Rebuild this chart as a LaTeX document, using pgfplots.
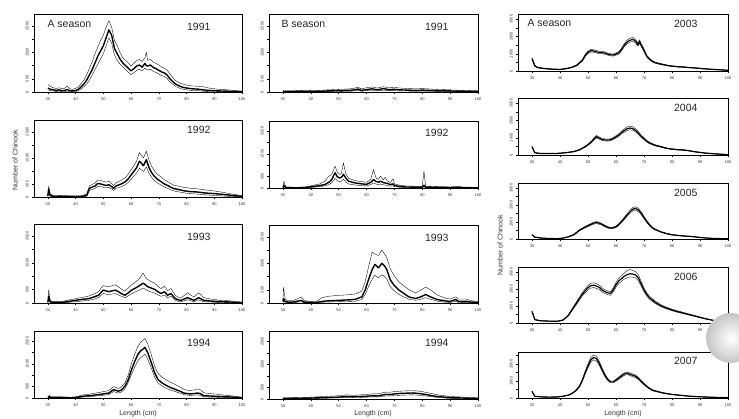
\documentclass[border=0pt]{standalone}
\usepackage{fontspec}
\setmainfont{Liberation Sans}
\usepackage{pgfplots}
\pgfplotsset{compat=1.18}
\usepackage{pgfplotstable}

% columns: length, mean, lower bound, upper bound
\pgfplotstableread{
x m lo hi
30 150 80 280
31 100 50 200
32 80 40 160
33 60 20 130
34 80 30 160
35 50 20 120
36 60 20 140
37 90 30 220
38 50 20 120
39 40 10 100
40 60 20 140
41 100 40 190
42 200 120 320
43 300 200 450
44 450 300 650
45 650 450 900
46 850 650 1150
47 1100 850 1450
48 1350 1050 1700
49 1550 1250 1950
50 1750 1450 2150
51 2050 1750 2450
52 2350 2050 2700
53 2150 1850 2450
54 1650 1400 1950
55 1450 1200 1750
56 1250 1050 1500
57 1100 950 1300
58 1000 850 1200
59 900 750 1100
60 800 660 980
61 880 730 1080
62 980 820 1180
63 1020 860 1230
64 940 790 1150
65 1080 900 1300
65.5 1000 850 1500
66 980 830 1200
67 1020 860 1230
68 930 780 1130
69 880 740 1080
70 820 680 1020
71 760 620 950
72 720 590 900
73 640 510 830
74 500 380 680
75 400 300 560
76 300 210 430
77 250 170 380
78 200 120 320
79 170 100 290
80 150 80 260
82 120 60 230
84 110 50 220
86 80 30 200
88 60 20 150
90 50 20 120
92 40 10 100
95 30 10 80
98 20 5 50
100 10 0 30
}\tAi
\pgfplotstableread{
x m lo hi
30 40 20 80
30.3 300 200 420
30.8 60 30 110
32 30 10 60
35 25 10 50
38 20 5 45
40 15 5 40
42 20 5 50
44 60 30 110
45 330 250 430
46 380 290 480
47 420 330 540
48 520 410 650
49 500 400 640
50 470 370 600
51 440 350 570
52 470 370 600
53 400 310 520
53.7 330 250 440
54.5 420 330 540
55.5 460 360 590
56.5 500 400 640
58 590 470 750
59 700 560 880
60 840 680 1040
61 980 800 1200
62 1120 920 1380
63 1370 1100 1700
64 1260 1020 1550
64.5 1200 980 1500
65.5 1430 1150 1760
66.5 1120 900 1400
67.5 920 740 1150
68.5 780 620 990
69.5 680 540 870
70.8 590 460 770
72 500 380 660
73 450 340 600
74.4 370 270 510
75.5 320 230 450
77 290 200 420
79 240 160 370
81 210 130 340
84 190 110 310
87 150 80 270
90 130 60 230
93 100 40 180
96 65 20 120
100 25 5 50
}\tAii
\pgfplotstableread{
x m lo hi
30 30 10 60
30.3 250 120 480
30.8 60 20 120
31.5 20 5 50
33 30 10 70
35 20 5 50
37 50 20 100
40 100 50 160
42 130 70 200
44.8 165 100 260
46.5 220 140 330
48.3 290 200 420
49.2 400 290 560
50 480 360 650
51 450 330 620
52 420 300 600
53 450 330 640
54.3 480 350 680
55.5 420 300 600
56.5 350 250 520
57.8 290 200 440
59 380 270 560
60.2 480 350 680
61.3 540 400 760
62.5 610 460 860
63.5 680 510 980
64.3 740 560 1120
65.2 680 510 960
66 610 460 880
67.2 560 410 800
68.5 510 370 740
69.7 420 300 620
70.8 355 250 540
72 420 300 620
73.2 290 200 460
74.4 355 250 540
75.2 250 170 400
76 165 100 280
77 120 60 220
78 100 50 200
79.2 150 80 280
80.3 200 120 380
81.5 150 80 300
82.7 100 50 220
83.5 150 80 300
84.4 200 120 380
85.3 150 80 300
86.2 100 50 200
88 80 40 160
89.8 65 30 130
92 50 20 100
95.7 38 10 80
100 10 0 30
}\tAiii
\pgfplotstableread{
x m lo hi
30 20 5 50
30.5 60 20 110
31 20 5 50
35 20 5 50
38 10 0 30
40 20 5 50
42.5 75 40 130
45 100 60 170
48.3 150 100 240
50 180 120 280
52 220 150 330
53.7 370 280 500
55.4 300 220 420
56.5 350 260 480
57.8 520 410 680
59 820 680 1020
60.2 1260 1060 1540
61.4 1630 1380 1950
62.5 1930 1650 2280
63.5 2080 1780 2450
64.3 2150 1850 2540
65 2230 1930 2620
66 2000 1720 2380
67.3 1560 1320 1900
68.5 1110 920 1400
69.7 820 670 1080
70.8 700 560 950
72 600 470 850
73.2 520 400 760
74.4 450 340 680
75.5 400 300 620
76.7 340 250 540
78 280 200 460
79 220 150 380
80 200 130 350
81.4 180 110 330
83 200 130 360
84 220 140 400
85 190 120 360
86.2 100 50 230
88 90 40 200
90.9 75 30 170
93 60 20 130
95.7 45 10 100
98 30 5 70
100 10 0 30
}\tAiv
\pgfplotstableread{
x m lo hi
30 20 5 50
33 15 5 40
36 25 10 60
40 30 10 70
43 25 10 60
46 40 15 80
50 50 20 100
53 60 30 110
55 70 35 130
57 110 60 180
58 60 30 120
60 90 50 160
62 120 60 190
64 80 40 150
66 130 70 200
68 90 50 160
70 100 50 170
72 80 40 150
75 70 35 130
78 60 30 120
80 70 35 130
85 50 25 100
90 40 15 80
95 30 10 60
100 20 5 40
}\tBi
\pgfplotstableread{
x m lo hi
30 20 5 40
30.4 120 50 300
31 20 5 40
35 10 0 30
38 20 5 45
41.4 75 40 130
43 100 60 170
45 150 90 300
46.5 250 150 520
47.5 370 230 600
48.7 670 420 960
49.5 500 320 700
50.3 440 280 600
51 470 300 650
51.7 600 380 1110
52.5 450 280 650
53.5 300 180 430
55 250 150 360
56 220 130 320
58.3 180 100 280
60 160 90 250
61.5 250 150 380
62.5 370 220 810
63.5 280 170 420
64.3 260 150 390
65 300 180 520
66 240 140 360
66.7 220 130 470
67.5 200 110 310
68.5 150 80 240
69.5 180 100 410
70 110 60 180
71.6 75 40 130
74 45 20 90
77 40 15 80
80 40 15 80
80.6 120 60 740
81.2 40 15 80
85 30 10 60
90 20 5 45
93 30 10 60
95 15 5 35
100 10 0 25
}\tBii
\pgfplotstableread{
x m lo hi
30 60 20 150
30.2 170 80 590
30.8 60 20 150
32 30 10 80
34 40 15 100
36.6 100 50 230
37.5 40 15 100
40 20 5 50
42 20 5 60
44 60 30 200
46 80 40 250
48 90 45 270
50 100 50 290
52 110 55 300
54 120 60 320
56 140 70 340
58.3 230 130 450
59.5 490 320 800
60.7 880 620 1350
62 1260 900 1930
63 1460 1050 1850
64.3 1330 950 1800
65.5 1500 1070 2000
66.5 1400 1000 1850
67.3 1260 900 1700
68.5 880 620 1300
69.8 680 470 1050
71.6 490 330 800
73.4 360 230 650
75.2 230 140 500
77.6 170 100 380
79.4 230 140 480
81.2 320 200 600
83 230 140 500
85.4 130 70 300
88.4 77 30 180
90 60 20 150
92 130 60 230
93 60 20 150
95.7 65 25 150
97 40 10 100
100 20 5 50
}\tBiii
\pgfplotstableread{
x m lo hi
30 20 10 50
35 30 15 60
40 40 20 80
45 60 35 110
50 80 50 140
53 110 70 180
55 100 60 160
58 110 70 180
60 120 80 200
62 140 90 220
64 130 90 220
66 180 120 280
67 200 130 300
68 190 130 290
70 220 150 320
72 240 160 340
74 250 170 350
76 260 180 360
78 250 170 350
80 220 150 320
82 180 120 270
84 130 90 220
86 100 60 170
90 60 30 110
95 40 20 80
100 20 5 50
}\tBiv
\pgfplotstableread{
x m lo hi
30 720 680 770
31 300 270 330
32 200 180 220
34 150 135 165
36 120 105 135
38 100 90 110
40 90 80 100
42 130 115 145
44 200 180 220
46 330 300 360
48 620 570 670
49 900 840 960
50 1080 1010 1150
51 1180 1100 1260
52 1160 1080 1240
53 1110 1040 1180
54 1080 1010 1150
55 1060 990 1130
56 1040 970 1110
57 980 920 1040
58 940 880 1000
59 920 860 980
60 980 920 1050
61 1050 980 1120
62 1250 1170 1330
63 1500 1410 1600
64 1680 1580 1790
65 1780 1670 1900
66 1830 1720 1950
67 1720 1620 1830
67.8 1520 1430 1620
68.4 1700 1600 1810
69 1500 1410 1600
70 1200 1130 1280
71 850 800 910
72 680 640 730
73 560 520 600
74 480 450 510
76 400 370 430
78 330 310 350
80 280 260 300
82 250 230 270
84 230 210 250
86 200 185 215
88 180 165 195
90 150 140 160
92 120 110 130
94 100 90 110
96 80 70 90
98 60 50 70
100 40 30 50
}\tCi
\pgfplotstableread{
x m lo hi
30 480 450 510
31 130 120 140
33 90 80 100
36 80 70 90
39 90 80 100
42 130 120 140
45 200 185 215
47 300 280 320
49 480 450 510
51 720 670 770
52 900 840 960
53 1060 990 1130
54 980 920 1050
55 900 840 960
56 870 810 930
57 860 800 920
58 880 820 940
59 950 890 1010
60 1050 980 1120
61 1150 1080 1230
62 1300 1220 1390
63 1420 1330 1520
64 1520 1420 1630
65 1560 1460 1670
66 1530 1430 1640
67 1420 1330 1520
68 1260 1180 1350
69 1080 1010 1150
70 950 890 1010
71 800 750 850
72 690 650 730
74 560 530 590
76 480 450 510
78 390 370 410
80 340 320 360
82 310 290 330
84 290 270 310
86 250 235 265
88 190 180 200
90 150 140 160
92 110 100 120
95 70 60 80
100 20 15 25
}\tCii
\pgfplotstableread{
x m lo hi
30 250 230 270
31 110 100 120
33 60 55 65
36 30 25 35
39 20 15 25
41 50 45 55
43 130 120 140
45 260 240 280
47 520 490 550
49 700 660 740
51 860 810 910
52 930 870 990
53 970 910 1030
54 930 870 990
55 860 810 910
56 770 720 820
57 690 650 730
58 640 600 680
59 660 620 700
60 720 680 760
61 850 800 900
62 1030 970 1090
63 1220 1150 1290
64 1420 1340 1500
65 1600 1510 1690
66 1760 1660 1860
67 1800 1700 1900
68 1700 1600 1800
69 1520 1430 1610
70 1260 1190 1330
71 1030 970 1090
72 820 770 870
73 660 620 700
74 560 530 590
76 420 400 440
78 320 300 340
80 250 235 265
82 210 195 225
84 180 170 190
86 160 150 170
88 130 120 140
90 90 85 95
92 60 55 65
95 30 25 35
100 10 5 15
}\tCiii
\pgfplotstableread{
x m lo hi
30 680 640 720
31 200 185 215
33 130 120 140
36 110 100 120
39 100 90 110
41 170 155 185
42 300 280 320
43 450 420 480
44 700 650 750
45 960 900 1020
46 1200 1120 1280
47 1450 1360 1540
48 1700 1600 1800
49 1900 1780 2020
50 2080 1950 2210
51 2200 2060 2340
52 2230 2090 2370
53 2180 2040 2320
54 2100 1970 2230
55 1950 1830 2070
56 1850 1740 1960
57 1780 1670 1890
58 1740 1630 1850
59 1950 1830 2070
60 2250 2110 2390
61 2480 2330 2640
62 2620 2460 2790
63 2760 2590 2950
64 2850 2670 3100
65 2900 2720 3150
66 2880 2700 3100
67 2830 2650 3020
68 2650 2480 2830
69 2300 2160 2450
70 1950 1830 2070
71 1680 1580 1780
72 1480 1390 1570
73 1350 1270 1430
74 1220 1150 1290
76 1020 960 1080
78 880 830 930
80 770 720 820
82 670 630 710
84 590 550 630
86 500 470 530
88 420 395 445
90 330 310 350
92 250 235 265
94 180 170 190
96 110 100 120
98 60 55 65
100 20 15 25
}\tCiv
\pgfplotstableread{
x m lo hi
30 390 370 410
31 100 90 110
33 70 65 75
36 50 45 55
39 60 55 65
41 100 90 110
43 170 160 180
44 240 225 255
45 350 330 370
46 500 470 530
47 700 660 740
48 1050 990 1110
49 1500 1410 1590
50 1900 1790 2010
51 2250 2120 2400
52 2390 2250 2540
53 2330 2190 2480
54 2050 1930 2170
55 1700 1600 1800
56 1350 1270 1430
57 1100 1040 1160
58 950 900 1000
59 950 900 1000
60 1050 990 1110
61 1180 1110 1250
62 1300 1220 1380
63 1420 1340 1500
64 1460 1380 1540
65 1400 1320 1480
66 1340 1260 1420
67 1280 1200 1360
68 1150 1080 1220
69 980 920 1040
70 820 770 870
71 680 640 720
72 560 530 590
73 460 430 490
75 370 350 390
77 290 275 305
80 210 200 220
83 160 150 170
86 110 105 115
90 70 65 75
95 40 35 45
100 20 15 25
}\tCv

\pgfplotsset{
  panel/.style={scale only axis, anchor=south west,
    xmin=25, xmax=100, ymin=0,
    xtick={30,40,...,100},
    tick pos=left, tick align=outside, major tick length=1.8pt,
    tick style={line width=0.4pt, black},
    axis line style={line width=0.6pt},
    ticklabel style={font=\fontsize{4}{4.5}\selectfont, text=black!80},
    yticklabel style={rotate=90, anchor=south},
    /pgf/number format/1000 sep={},
    /pgf/number format/assume math mode=true},
  panA/.style={panel, width=208pt, ymax=2950,
    ytick={0,500,...,2500}, yticklabels={0,500,,1500,,2500}},
  panC/.style={panel, width=210pt, ymax=3300,
    ytick={0,500,...,3000}, yticklabels={0,,1000,,2000,,3000}},
  mean/.style={black, line width=1.4pt, line join=round},
  bnd/.style={black, line width=0.35pt, line join=round},
}

\newcommand{\bands}[2][1.4pt]{%
  \addplot[bnd] table[x=x,y=lo]{#2};
  \addplot[bnd] table[x=x,y=hi]{#2};
  \addplot[mean, line width=#1] table[x=x,y=m]{#2};}

\begin{document}
\begin{tikzpicture}
\useasboundingbox (0,0) rectangle (739pt,419pt);

% A season 1991-1994
\begin{axis}[panA, at={(34pt,327pt)}, height=78pt] \bands{\tAi} \end{axis}
\begin{axis}[panA, at={(34pt,222pt)}, height=77pt] \bands{\tAii} \end{axis}
\begin{axis}[panA, at={(34pt,116pt)}, height=79pt] \bands{\tAiii} \end{axis}
\begin{axis}[panA, at={(34pt,21pt)}, height=67pt] \bands{\tAiv} \end{axis}

% B season 1991-1994
\begin{axis}[panA, width=209pt, at={(269pt,327pt)}, height=78pt] \bands{\tBi} \end{axis}
\begin{axis}[panA, width=209pt, at={(269pt,231pt)}, height=67pt] \bands{\tBii} \end{axis}
\begin{axis}[panA, width=209pt, at={(269pt,116pt)}, height=78pt] \bands{\tBiii} \end{axis}
\begin{axis}[panA, width=209pt, at={(269pt,20pt)}, height=68pt] \bands{\tBiv} \end{axis}

% A season 2003-2007
\begin{axis}[panC, at={(518pt,348pt)}, height=57pt] \bands[1.2pt]{\tCi} \end{axis}
\begin{axis}[panC, at={(518pt,264pt)}, height=57pt] \bands[1.2pt]{\tCii} \end{axis}
\begin{axis}[panC, at={(518pt,180pt)}, height=56pt] \bands[1.2pt]{\tCiii} \end{axis}
\begin{axis}[panC, at={(518pt,96pt)}, height=56pt] \bands[1.2pt]{\tCiv} \end{axis}
\begin{axis}[panC, at={(518pt,21pt)}, height=46pt, ymax=2715,
  ytick={0,500,...,2500}, yticklabels={0,,1000,,2000,}] \bands[1.2pt]{\tCv} \end{axis}

\begin{scope}[font=\fontsize{10.5}{12}\selectfont, text=black!85]
\node[anchor=west] at (44pt,395pt) {A season};
\node[anchor=west] at (278pt,395pt) {B season};
\node[anchor=west] at (524pt,396pt) {A season};
\node[anchor=east] at (214pt,392pt) {1991};
\node[anchor=east] at (214pt,289pt) {1992};
\node[anchor=east] at (214pt,182pt) {1993};
\node[anchor=east] at (214pt,76pt) {1994};
\node[anchor=east] at (452pt,392pt) {1991};
\node[anchor=east] at (452pt,286pt) {1992};
\node[anchor=east] at (452pt,181pt) {1993};
\node[anchor=east] at (452pt,76pt) {1994};
\node[anchor=east] at (701pt,395pt) {2003};
\node[anchor=east] at (701pt,311pt) {2004};
\node[anchor=east] at (701pt,226pt) {2005};
\node[anchor=east] at (701pt,142pt) {2006};
\node[anchor=east] at (701pt,58pt) {2007};
\end{scope}

\begin{scope}[font=\fontsize{7}{8}\selectfont, text=black!80]
\node[rotate=90] at (15pt,259pt) {Number of Chinook};
\node[rotate=90] at (500pt,174pt) {Number of Chinook};
\node at (138pt,5pt) {Length (cm)};
\node at (373pt,5pt) {Length (cm)};
\node at (623pt,5pt) {Length (cm)};
\end{scope}

\begin{scope}
\clip (0,0) rectangle (739pt,419pt);
\shade[inner color=white, outer color=gray!45] (731pt,81pt) circle (25pt);
\end{scope}
\end{tikzpicture}
\end{document}
